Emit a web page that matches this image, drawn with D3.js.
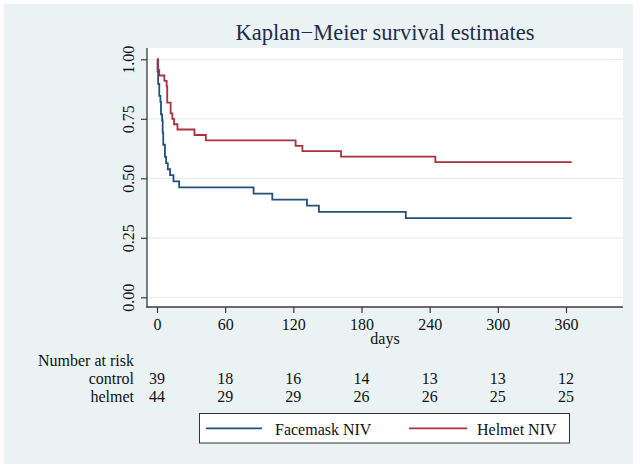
<!DOCTYPE html>
<html>
<head>
<meta charset="utf-8">
<script src="https://cdn.jsdelivr.net/npm/d3@7"></script>
<style>
  html, body { margin: 0; padding: 0; background: #ffffff; }
  svg { display: block; }
  text { font-family: "Liberation Serif", "Times New Roman", serif; }
</style>
</head>
<body>
<script>
// ---- data ----
const title = "Kaplan\u2212Meier survival estimates";
const xLabel = "days";
const xTicks = [0, 60, 120, 180, 240, 300, 360];
const yTicks = [0, 0.25, 0.5, 0.75, 1];
const endTime = 365;

const facemaskTimes = [0, 0.5, 1, 2, 3, 3.5, 4.5, 5, 5.5, 7, 8, 9.5, 11.5, 14.5, 19.5, 85, 101.5, 132, 142.5, 219];
const facemaskSurv  = [1, 0.949, 0.897, 0.846, 0.821, 0.769, 0.744, 0.692, 0.641, 0.590, 0.564, 0.538, 0.513, 0.487, 0.462, 0.436, 0.410, 0.385, 0.359, 0.333];

const helmetTimes = [0, 1, 2, 6.5, 8.5, 9, 12, 13.5, 15, 18, 33, 43, 122, 128, 162, 245];
const helmetSurv  = [1, 0.955, 0.932, 0.909, 0.886, 0.818, 0.773, 0.750, 0.727, 0.705, 0.682, 0.659, 0.636, 0.614, 0.591, 0.568];

const riskTitle = "Number at risk";
const riskGroups = ["control", "helmet"];
const riskTimes = [0, 60, 120, 180, 240, 300, 360];
const riskControl = [39, 18, 16, 14, 13, 13, 12];
const riskHelmet = [44, 29, 29, 26, 26, 25, 25];

const legendLabels = ["Facemask NIV", "Helmet NIV"];

// ---- style / layout ----
const W = 643, H = 470;
const bgColor = "#eaf2f3";
const blue = "#23507c";
const red = "#a8323f";
const axisColor = "#3a3a3a";
const textColor = "#111111";
const fs = 16;
const plot = { left: 147, right: 623, top: 48, bottom: 307 };

const svg = d3.select("body").append("svg").attr("width", W).attr("height", H);
svg.append("rect").attr("width", W).attr("height", H).attr("fill", "#ffffff");
svg.append("rect").attr("x", 4).attr("y", 4).attr("width", 629).attr("height", 460).attr("fill", bgColor);

const x = d3.scaleLinear().domain([0, 360]).range([157, 566]);
const y = d3.scaleLinear().domain([0, 1]).range([297.3, 59.3]);

// plot region
svg.append("rect").attr("x", plot.left).attr("y", plot.top)
  .attr("width", plot.right - plot.left).attr("height", plot.bottom - plot.top)
  .attr("fill", "#ffffff");

// gridlines
svg.append("g").selectAll("line").data(yTicks).join("line")
  .attr("x1", plot.left).attr("x2", plot.right)
  .attr("y1", d => y(d)).attr("y2", d => y(d))
  .attr("stroke", "#e6eef0").attr("stroke-width", 1.2);

// title
svg.append("text").attr("x", (plot.left + plot.right) / 2).attr("y", 40)
  .attr("text-anchor", "middle").attr("font-size", 22.5).attr("fill", "#1e2b4a")
  .text(title);

// y axis
const yAxis = d3.axisLeft(y).tickValues(yTicks).tickFormat(d3.format(".2f")).tickSize(6).tickPadding(0);
const gy = svg.append("g").attr("transform", `translate(${plot.left},0)`).call(yAxis);
gy.select(".domain").remove();
gy.selectAll(".tick line").attr("stroke", axisColor).attr("stroke-width", 1.2);
gy.selectAll(".tick text").attr("font-size", fs).attr("fill", textColor)
  .attr("text-anchor", "middle").attr("x", null).attr("dy", null)
  .attr("transform", "translate(-13.5,0) rotate(-90)");
svg.append("line").attr("x1", plot.left).attr("x2", plot.left)
  .attr("y1", plot.top).attr("y2", plot.bottom + 0.6)
  .attr("stroke", axisColor).attr("stroke-width", 1.3);

// x axis
const xAxis = d3.axisBottom(x).tickValues(xTicks).tickFormat(d3.format("d")).tickSize(6).tickPadding(5);
const gx = svg.append("g").attr("transform", `translate(0,${plot.bottom})`).call(xAxis);
gx.select(".domain").remove();
gx.selectAll(".tick line").attr("stroke", axisColor).attr("stroke-width", 1.2);
gx.selectAll(".tick text").attr("font-size", fs).attr("fill", textColor).attr("dy", null).attr("y", 23);
svg.append("line").attr("x1", plot.left - 0.6).attr("x2", plot.right)
  .attr("y1", plot.bottom).attr("y2", plot.bottom)
  .attr("stroke", axisColor).attr("stroke-width", 1.3);

svg.append("text").attr("x", (plot.left + plot.right) / 2).attr("y", 344)
  .attr("text-anchor", "middle").attr("font-size", fs).attr("fill", textColor).text(xLabel);

// curves
const line = d3.line().x(d => x(d[0])).y(d => y(d[1])).curve(d3.curveStepAfter);
function pts(times, surv) {
  const p = times.map((t, i) => [t, surv[i]]);
  p.push([endTime, surv[surv.length - 1]]);
  return p;
}
svg.append("path").datum(pts(facemaskTimes, facemaskSurv)).attr("d", line)
  .attr("fill", "none").attr("stroke", blue).attr("stroke-width", 1.8);
svg.append("path").datum(pts(helmetTimes, helmetSurv)).attr("d", line)
  .attr("fill", "none").attr("stroke", red).attr("stroke-width", 1.8);

// risk table
const labelRight = 134;
svg.append("text").attr("x", labelRight).attr("y", 365.5).attr("text-anchor", "end")
  .attr("font-size", fs).attr("fill", textColor).text(riskTitle);
const riskRows = [riskControl, riskHelmet];
const rowY = [383.5, 401.8];
riskRows.forEach((row, r) => {
  svg.append("text").attr("x", labelRight).attr("y", rowY[r]).attr("text-anchor", "end")
    .attr("font-size", fs).attr("fill", textColor).text(riskGroups[r]);
  svg.append("g").selectAll("text").data(row).join("text")
    .attr("x", (d, i) => x(riskTimes[i])).attr("y", rowY[r])
    .attr("text-anchor", "middle").attr("font-size", fs).attr("fill", textColor)
    .text(d => d);
});

// legend
const lg = svg.append("g");
lg.append("rect").attr("x", 199.5).attr("y", 413.5).attr("width", 370).attr("height", 29.5)
  .attr("fill", "#ffffff").attr("stroke", "#333333").attr("stroke-width", 1);
const legendItems = [
  { label: legendLabels[0], color: blue, x1: 206, x2: 262, tx: 275 },
  { label: legendLabels[1], color: red, x1: 409, x2: 467, tx: 477 }
];
legendItems.forEach(it => {
  lg.append("line").attr("x1", it.x1).attr("x2", it.x2).attr("y1", 428.3).attr("y2", 428.3)
    .attr("stroke", it.color).attr("stroke-width", 1.8);
  lg.append("text").attr("x", it.tx).attr("y", 435).attr("font-size", fs)
    .attr("fill", textColor).text(it.label);
});
</script>
</body>
</html>
